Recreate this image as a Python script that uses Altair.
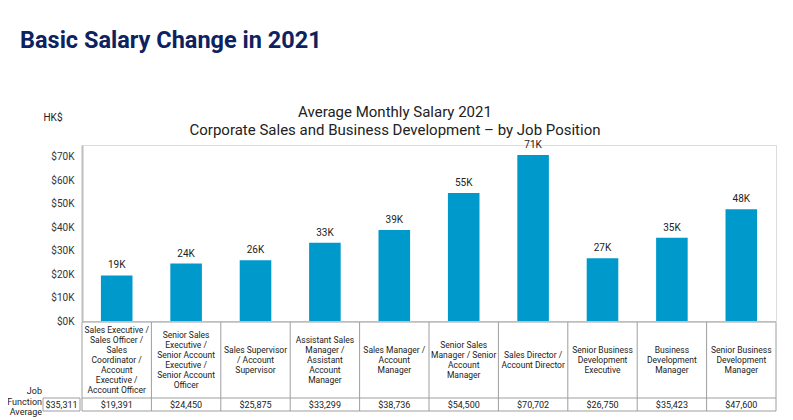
import altair as alt
import pandas as pd

jobs = [
    "Sales Executive / Sales Officer / Sales Coordinator / Account Executive / Account Officer",
    "Senior Sales Executive / Senior Account Executive / Senior Account Officer",
    "Sales Supervisor / Account Supervisor",
    "Assistant Sales Manager / Assistant Account Manager",
    "Sales Manager / Account Manager",
    "Senior Sales Manager / Senior Account Manager",
    "Sales Director / Account Director",
    "Senior Business Development Executive",
    "Business Development Manager",
    "Senior Business Development Manager",
]
label_lines = [
    ["Sales Executive /", "Sales Officer /", "Sales", "Coordinator /", "Account", "Executive /", "Account Officer"],
    ["Senior Sales", "Executive /", "Senior Account", "Executive /", "Senior Account", "Officer"],
    ["Sales Supervisor", "/ Account", "Supervisor"],
    ["Assistant Sales", "Manager /", "Assistant", "Account", "Manager"],
    ["Sales Manager /", "Account", "Manager"],
    ["Senior Sales", "Manager / Senior", "Account", "Manager"],
    ["Sales Director /", "Account Director"],
    ["Senior Business", "Development", "Executive"],
    ["Business", "Development", "Manager"],
    ["Senior Business", "Development", "Manager"],
]
salaries = [19391, 24450, 25875, 33299, 38736, 54500, 70702, 26750, 35423, 47600]
job_function_average = 35311
y_ticks = [0, 10000, 20000, 30000, 40000, 50000, 60000, 70000]

df = pd.DataFrame({
    "job": jobs,
    "lines": label_lines,
    "nlines": [len(l) for l in label_lines],
    "salary": salaries,
    "salary_txt": ["${:,}".format(s) for s in salaries],
})

W, H = 694, 176
BAR = "#0099CC"
FONT = "Roboto"
LH = 10  # line height of table text

x = alt.X("job:N", sort=jobs, axis=None,
          scale=alt.Scale(paddingInner=0, paddingOuter=0))
y = alt.Y("salary:Q", scale=alt.Scale(domain=[0, 75000], nice=False),
          axis=alt.Axis(values=y_ticks, labelExpr="'$' + datum.value/1000 + 'K'",
                        title=None, grid=False, ticks=False, domain=True,
                        domainColor="#bdbdbd", domainWidth=2, labelPadding=8,
                        labelOverlap=False, labelFontSize=10, labelColor="#333333",
                        labelFont=FONT))
base = alt.Chart(df)

bars = base.mark_bar(color=BAR, width=alt.RelativeBandSize(0.455)).encode(x=x, y=y)

bar_labels = base.transform_calculate(
    lab="round(datum.salary/1000) + 'K'"
).mark_text(dy=-5, fontSize=10, font=FONT, color="#222222", baseline="bottom").encode(
    x=x, y=y, text="lab:N"
)

# Table
T0, T1, T2 = H + 1, H + 77, H + 90
line_col = "#9e9e9e"
vlines = base.mark_rule(color=line_col, strokeWidth=1).encode(
    x=alt.X("job:N", sort=jobs, axis=None, bandPosition=0,
            scale=alt.Scale(paddingInner=0, paddingOuter=0)),
    y=alt.value(T0), y2=alt.value(T2),
)
one = pd.DataFrame({"a": [0]})
right_line = alt.Chart(one).mark_rule(color=line_col).encode(
    x=alt.value(W), y=alt.value(T0), y2=alt.value(T2))
hlines = [alt.Chart(one).mark_rule(color=line_col).encode(
    x=alt.value(0), x2=alt.value(W), y=alt.value(v)) for v in (T0, T1, T2)]

cell_text = base.transform_calculate(
    ty=f"{(T0 + T1) / 2} - datum.nlines * {LH} / 2 + 1"
).mark_text(fontSize=8.5, font=FONT, color="#222222", lineHeight=LH,
            baseline="top").encode(
    x=x, y=alt.Y("ty:Q", scale=None, axis=None), text="lines")
val_text = base.mark_text(fontSize=9, font=FONT, color="#222222", baseline="middle").encode(
    x=x, y=alt.value((T1 + T2) / 2 + 0.5), text="salary_txt:N")

avg_df = pd.DataFrame({"t": ["${:,}".format(job_function_average)]})
avg_box = alt.Chart(avg_df).mark_rect(fill="white", stroke=line_col, strokeWidth=1).encode(
    x=alt.value(-39), x2=alt.value(-2), y=alt.value(T1), y2=alt.value(T2))
avg_text = alt.Chart(avg_df).mark_text(fontSize=9, font=FONT, color="#222222",
                                       baseline="middle").encode(
    x=alt.value(-20.5), y=alt.value((T1 + T2) / 2 + 0.5), text="t:N")
jfa = alt.Chart(pd.DataFrame({"t": [["Job", "Function", "Average"]]})).mark_text(
    fontSize=9, font=FONT, color="#222222", align="right", baseline="top", lineHeight=10.5
).encode(x=alt.value(-40), y=alt.value(H + 66), text="t")

# Titles / annotations
def txt(s, xv, yv, size, color="#222222", weight="normal", align="center", font=FONT):
    return alt.Chart(pd.DataFrame({"t": [s]})).mark_text(
        fontSize=size, font=font, color=color, fontWeight=weight, align=align,
        baseline="middle").encode(x=alt.value(xv), y=alt.value(yv), text="t:N")

main_title = txt("Basic Salary Change in 2021", -62, -104, 23.5, color="#0d2260",
                 weight="bold", align="left")
t1 = txt("Average Monthly Salary 2021", 313, -33, 15)
t2 = txt("Corporate Sales and Business Development \u2013 by Job Position", 313, -15, 15)
hk = txt("HK$", -29, -27, 10, align="center")

chart = alt.layer(
    bars, bar_labels, vlines, right_line, *hlines, cell_text, val_text,
    avg_box, avg_text, jfa, main_title, t1, t2, hk
).properties(
    width=W, height=H,
    autosize=alt.AutoSizeParams(type="none"),
    padding={"left": 74, "top": 137, "right": 7, "bottom": 96},
).configure_view(stroke=None).configure(background="white")

chart.save("out.html", embed_options={"renderer": "svg", "actions": False})
